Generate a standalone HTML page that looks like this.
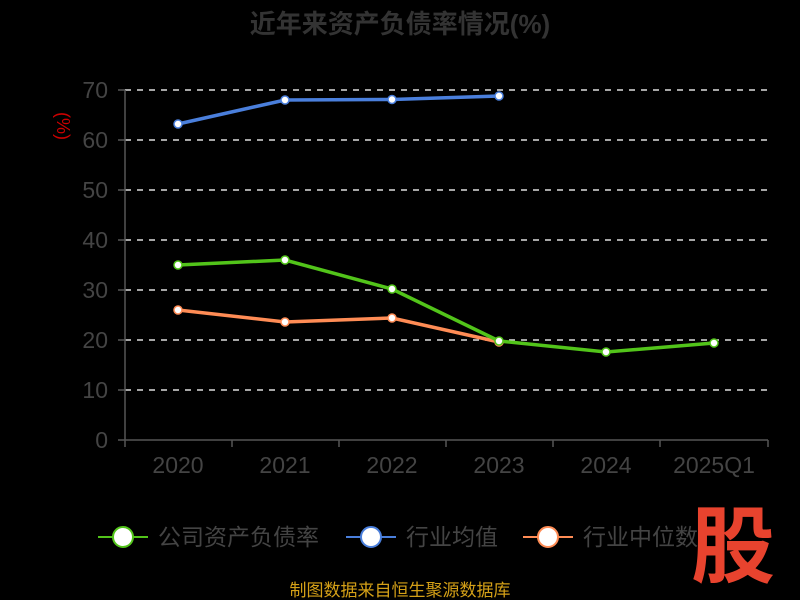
<!DOCTYPE html><html><head><meta charset="utf-8"><style>body{margin:0;background:#000}svg{display:block}text{font-family:"Liberation Sans","Noto Sans CJK SC",sans-serif}</style></head><body>
<svg width="800" height="600" viewBox="0 0 800 600">
<rect width="800" height="600" fill="#000"/>
<text x="400" y="33" text-anchor="middle" font-size="26" font-weight="bold" fill="#333">近年来资产负债率情况(%)</text>
<text x="57" y="126" font-size="18" fill="#c00" transform="rotate(90 57 126)" text-anchor="middle">(%)</text>
<g stroke="#ddd" stroke-dasharray="6,6" stroke-width="1.5">
<line x1="125" x2="768" y1="90" y2="90"/><line x1="125" x2="768" y1="140" y2="140"/><line x1="125" x2="768" y1="190" y2="190"/><line x1="125" x2="768" y1="240" y2="240"/><line x1="125" x2="768" y1="290" y2="290"/><line x1="125" x2="768" y1="340" y2="340"/><line x1="125" x2="768" y1="390" y2="390"/></g>
<g stroke="#555" stroke-width="1.5"><line x1="125" y1="90" x2="125" y2="440"/><line x1="125" y1="440" x2="768" y2="440"/>
<line x1="118" x2="125" y1="90" y2="90"/><line x1="118" x2="125" y1="140" y2="140"/><line x1="118" x2="125" y1="190" y2="190"/><line x1="118" x2="125" y1="240" y2="240"/><line x1="118" x2="125" y1="290" y2="290"/><line x1="118" x2="125" y1="340" y2="340"/><line x1="118" x2="125" y1="390" y2="390"/><line x1="118" x2="125" y1="440" y2="440"/>
<line x1="125" x2="125" y1="440" y2="447"/><line x1="232" x2="232" y1="440" y2="447"/><line x1="339" x2="339" y1="440" y2="447"/><line x1="446" x2="446" y1="440" y2="447"/><line x1="553" x2="553" y1="440" y2="447"/><line x1="660" x2="660" y1="440" y2="447"/><line x1="768" x2="768" y1="440" y2="447"/></g>
<g font-size="23" fill="#444" text-anchor="end"><text x="108" y="98">70</text><text x="108" y="148">60</text><text x="108" y="198">50</text><text x="108" y="248">40</text><text x="108" y="298">30</text><text x="108" y="348">20</text><text x="108" y="398">10</text><text x="108" y="448">0</text></g>
<g font-size="23" fill="#444" text-anchor="middle"><text x="178" y="473">2020</text><text x="285" y="473">2021</text><text x="392" y="473">2022</text><text x="499" y="473">2023</text><text x="606" y="473">2024</text><text x="714" y="473">2025Q1</text></g>
<g stroke-width="3.5" fill="none"><polyline stroke="#4a7fdc" points="178,124 285,100 392,99.5 499,96"/>
<polyline stroke="#ff8c55" points="178,310 285,322 392,318 499,342"/>
<polyline stroke="#52c41a" points="178,265 285,260 392,289 499,341 606,352 714,343"/></g>
<g fill="#fff" stroke-width="1.5">
<g stroke="#4a7fdc"><circle cx="178" cy="124" r="4"/><circle cx="285" cy="100" r="4"/><circle cx="392" cy="99.5" r="4"/><circle cx="499" cy="96" r="4"/></g>
<g stroke="#ff8c55"><circle cx="178" cy="310" r="4"/><circle cx="285" cy="322" r="4"/><circle cx="392" cy="318" r="4"/><circle cx="499" cy="342" r="4"/></g>
<g stroke="#52c41a"><circle cx="178" cy="265" r="4"/><circle cx="285" cy="260" r="4"/><circle cx="392" cy="289" r="4"/><circle cx="499" cy="341" r="4"/><circle cx="606" cy="352" r="4"/><circle cx="714" cy="343" r="4"/></g></g>
<g font-size="23" fill="#444">
<line x1="98" x2="148" y1="537" y2="537" stroke="#52c41a" stroke-width="2"/><circle cx="123" cy="537" r="10" fill="#fff" stroke="#52c41a" stroke-width="2"/><text x="158" y="545">公司资产负债率</text>
<line x1="346" x2="396" y1="537" y2="537" stroke="#4a7fdc" stroke-width="2"/><circle cx="371" cy="537" r="10" fill="#fff" stroke="#4a7fdc" stroke-width="2"/><text x="406" y="545">行业均值</text>
<line x1="523" x2="573" y1="537" y2="537" stroke="#ff8c55" stroke-width="2"/><circle cx="548" cy="537" r="10" fill="#fff" stroke="#ff8c55" stroke-width="2"/><text x="583" y="545">行业中位数</text></g>
<text x="733" y="576" text-anchor="middle" font-size="84" font-weight="bold" fill="#e8432e">股</text>
<text x="400" y="596" text-anchor="middle" font-size="17" fill="#d4a017">制图数据来自恒生聚源数据库</text>
</svg></body></html>
